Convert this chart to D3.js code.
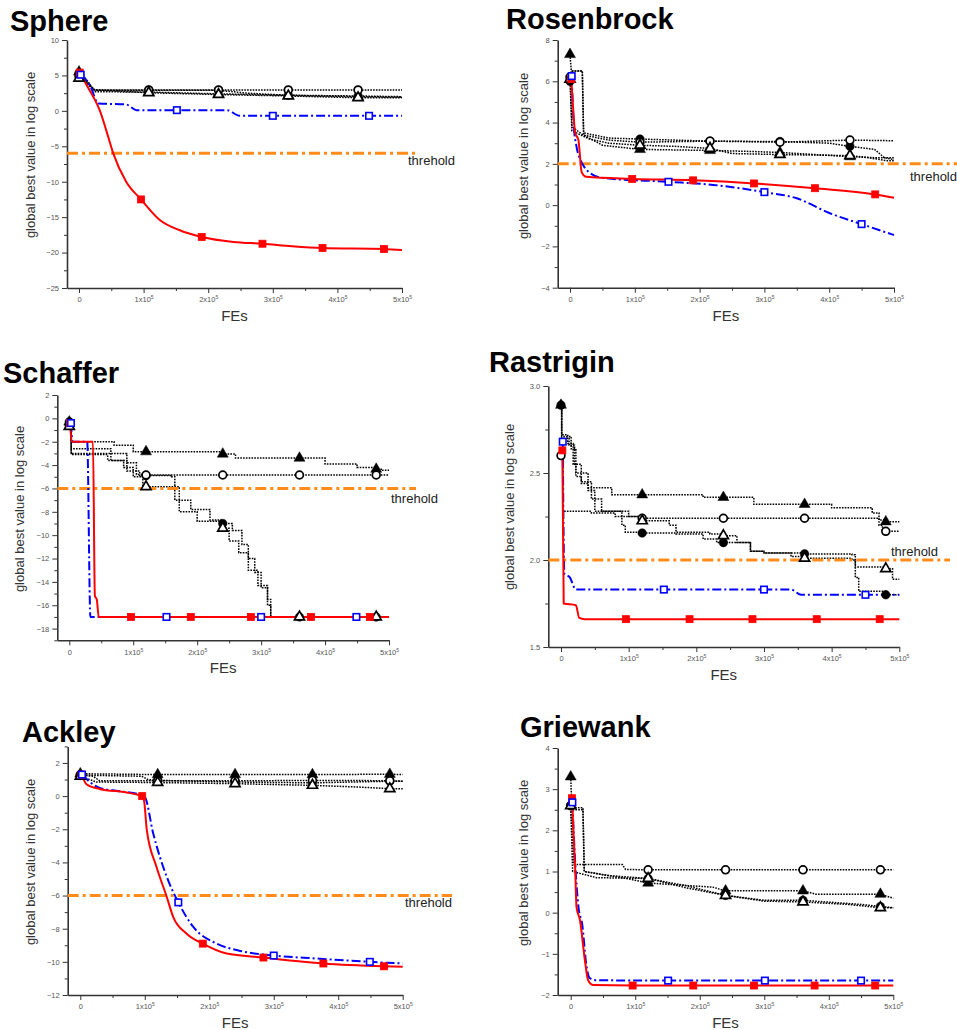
<!DOCTYPE html>
<html>
<head>
<meta charset="utf-8">
<script src="https://cdn.jsdelivr.net/npm/d3@7"></script>
<style>
  body { margin: 0; background: #fff; }
  svg { display: block; font-family: Arial, "Liberation Sans", sans-serif; }
</style>
</head>
<body>
<div id="chart"></div>
<script>
// x values are FEs in units of 1e5, y is log10 of global best value
// a third item of 1 means a marker is drawn on that point

const titles = ["Sphere", "Rosenbrock", "Schaffer", "Rastrigin", "Ackley", "Griewank"];
const xTicks = [0, 1, 2, 3, 4, 5];
const xTickLabels = ["0", "1x10", "2x10", "3x10", "4x10", "5x10"];
const yDomains = [[-25, 10], [-4, 8], [-19, 2], [1.5, 3], [-12, 3], [-2, 4]];
const yTickSets = [
  [-25, -20, -15, -10, -5, 0, 5, 10],
  [-4, -2, 0, 2, 4, 6, 8],
  [-18, -16, -14, -12, -10, -8, -6, -4, -2, 0, 2],
  [1.5, 2.0, 2.5, 3.0],
  [-12, -10, -8, -6, -4, -2, 0, 2],
  [-2, -1, 0, 1, 2, 3, 4]
];
const yMinorSteps = [2.5, 1, 1, 0.25, 1, 0.5];
const thresholds = [-6, 2, -6, 2, -6, null];
const thresholdText = "threhold";

// ---- Sphere
const sphereRed = [[0.01,5.4,1],[0.12,3.6],[0.22,2.0],[0.32,0.1],[0.43,-3],[0.53,-6.0],[0.73,-10],[0.96,-12.5,1],[1.25,-15.4],[1.56,-16.85],[1.9,-17.8,1],[2.39,-18.5],[2.84,-18.75,1],[3.3,-19.1],[3.77,-19.35,1],[4.72,-19.5,1],[5,-19.65]];
const sphereBlue = [[0.026,5.1,1],[0.17,3.6],[0.3,1.05],[0.73,0.9],[0.89,0.1],[1.515,0.1,1],[2.29,0.1],[2.49,-0.7],[3.0,-0.7,1],[4.49,-0.7,1],[5,-0.7]];
const sphereFilledCircle = [[0,5.3,1],[0.1,4.2],[0.25,2.9],[1.08,2.9,1],[2.16,2.9,1],[2.6,2.5],[3.24,2.2,1],[4.32,2.1,1],[5,2.0]];
const sphereOpenCircle = [[0,4.9,1],[0.08,4.5],[0.15,3.6],[0.25,2.95],[1.08,2.95,1],[2.16,2.95,1],[3.24,2.95,1],[4.32,2.95,1],[5,2.95]];
const sphereFilledTriangle = [[0,5.5,1],[0.1,4.6],[0.25,2.7],[1.08,2.65,1],[2.16,2.4,1],[3.24,2.2,1],[4.32,2.0,1],[5,1.95]];
const sphereOpenTriangle = [[0,4.6,1],[0.1,4.4],[0.2,3.0],[1.08,2.55,1],[2.16,2.3,1],[3.24,2.1,1],[4.32,1.85,1],[5,1.85]];

// ---- Rosenbrock
const rosenRed = [[0.02,6.1,1],[0.05,4.6],[0.08,3.5],[0.13,3.15],[0.18,1.6],[0.25,1.37],[0.96,1.27,1],[1.9,1.2,1],[2.84,1.05,1],[3.78,0.82,1],[4.71,0.52,1],[5,0.36]];
const rosenBlue = [[0.026,6.25,1],[0.06,3.8],[0.1,2.85],[0.16,2.2],[0.22,1.85],[0.31,1.55],[0.5,1.32],[1.52,1.13,1],[2.21,0.98],[3.0,0.63,1],[3.5,0.33],[4.0,-0.38],[4.5,-0.92,1],[5,-1.45]];
const rosenFilledCircle = [[0,6.0,1],[0.02,6.5],[0.19,6.5],[0.21,3.5],[0.6,3.25],[1.08,3.2,1],[2.16,3.1,1],[3.24,3.08,1],[4.0,3.0],[4.32,2.85,1],[4.7,2.7],[4.85,2.3],[5,2.2]];
const rosenOpenCircle = [[0,6.2,1],[0.03,3.8],[0.2,3.4],[0.6,3.15],[1.08,3.05,1],[2.16,3.1,1],[3.24,3.05,1],[4.32,3.15,1],[5,3.12]];
const rosenFilledTriangle = [[0,7.3,1],[0.02,6.5],[0.19,6.5],[0.21,3.4],[0.5,2.9],[1.08,2.7,1],[2.16,2.65,1],[2.8,2.6],[3.24,2.55,1],[4.32,2.35,1],[4.7,2.3],[5,2.3]];
const rosenOpenTriangle = [[0,6.1,1],[0.03,3.6],[0.3,3.2],[0.6,3.0],[1.08,2.9,1],[1.6,2.85],[2.16,2.75,1],[2.5,2.5],[3.24,2.45,1],[4.32,2.4,1],[4.6,2.3],[4.9,2.15],[5,2.15]];

// ---- Schaffer
const schafRed = [[0.01,-0.4,1],[0.04,-2.0],[0.37,-2.0],[0.4,-15.2],[0.43,-15.5],[0.46,-17],[0.965,-17,1],[1.9,-17,1],[2.84,-17,1],[3.78,-17,1],[4.7,-17,1],[5,-17]];
const schafBlue = [[0.026,-0.4,1],[0.05,-2.0],[0.28,-2.0],[0.33,-17],[1.52,-17,1],[3.0,-17,1],[4.49,-17,1],[5,-17]];
const schafFilledCircle = [[0,-0.3,1],[0.03,-2.6],[0.5,-2.6],[0.65,-3.6],[0.9,-4.5],[1.1,-4.9],[1.2,-4.9,1],[1.6,-5.0],[1.65,-7.0],[1.9,-7.8],[2.2,-8.7],[2.4,-9.0,1],[2.55,-9.6],[2.7,-10.8],[2.8,-12],[2.9,-13.2],[3.0,-14.5],[3.1,-15.5],[3.15,-17],[3.6,-17,1],[4.8,-17,1],[5,-17]];
const schafOpenCircle = [[0,-0.6,1],[0.03,-3.0],[0.7,-3.0],[0.9,-3.8],[1.05,-4.8],[1.2,-4.85,1],[2.4,-4.85,1],[3.6,-4.85,1],[4.8,-4.85,1],[5,-4.85]];
const schafFilledTriangle = [[0,-0.3,1],[0.03,-2.0],[0.7,-2.3],[1.0,-2.85],[1.2,-2.85,1],[2.4,-3.05,1],[2.6,-3.4],[3.6,-3.4,1],[4.0,-3.9],[4.5,-4.2],[4.8,-4.35,1],[4.9,-4.45],[5,-4.45]];
const schafOpenTriangle = [[0,-0.7,1],[0.03,-3.1],[0.6,-3.6],[0.85,-4.2],[1.0,-5.0],[1.15,-5.85],[1.2,-5.85,1],[1.7,-5.9],[1.72,-8.0],[2.0,-8.8],[2.4,-9.4,1],[2.5,-10.5],[2.65,-11.5],[2.8,-13],[2.95,-14.3],[3.1,-16],[3.15,-17],[3.6,-17,1],[4.8,-17,1],[5,-17]];

// ---- Rastrigin
const rastRed = [[0.02,2.63,1],[0.04,1.75],[0.22,1.74],[0.27,1.667],[0.35,1.66],[0.96,1.66,1],[1.9,1.66,1],[2.83,1.66,1],[3.78,1.66,1],[4.71,1.66,1],[5,1.66]];
const rastBlue = [[0.026,2.68,1],[0.05,1.92],[0.13,1.9],[0.22,1.83],[1.52,1.83,1],[3.0,1.83,1],[3.4,1.83],[3.55,1.8],[4.5,1.8,1],[5,1.8]];
const rastFilledCircle = [[0,2.89,1],[0.01,2.71],[0.15,2.64],[0.22,2.5],[0.4,2.4],[0.5,2.28],[0.9,2.2],[0.95,2.16],[1.2,2.155,1],[1.7,2.15],[2.1,2.12],[2.3,2.1],[2.4,2.1,1],[2.8,2.05],[3.0,2.04],[3.6,2.035,1],[4.3,2.03],[4.35,1.9],[4.4,1.82],[4.8,1.8,1],[5,1.8]];
const rastOpenCircle = [[0,2.6,1],[0.03,2.28],[0.45,2.27],[0.8,2.25],[1.2,2.24,1],[2.4,2.24,1],[3.6,2.24,1],[4.6,2.24],[4.7,2.2],[4.75,2.17],[4.8,2.165,1],[5,2.165]];
const rastFilledTriangle = [[0,2.89,1],[0.01,2.72],[0.1,2.67],[0.18,2.55],[0.22,2.48],[0.3,2.44],[0.4,2.415],[0.75,2.375],[1.2,2.375,1],[2.1,2.36],[2.4,2.36,1],[2.85,2.32],[3.6,2.32,1],[4.0,2.3],[4.6,2.27],[4.7,2.23],[4.8,2.22,1],[5,2.22]];
const rastOpenTriangle = [[0,2.88],[0.01,2.7],[0.12,2.66],[0.2,2.55],[0.3,2.45],[0.45,2.35],[0.6,2.28],[1.0,2.25],[1.2,2.225,1],[1.6,2.2],[1.7,2.16],[2.2,2.15],[2.4,2.14,1],[2.6,2.1],[2.8,2.05],[3.0,2.04],[3.4,2.02],[3.6,2.01,1],[4.3,2.0],[4.35,1.96],[4.8,1.95,1],[4.9,1.89],[5,1.89]];

// ---- Ackley
const ackRed = [[0.02,1.3,1],[0.1,0.7],[0.3,0.43],[0.72,0.22],[0.92,0.05],[0.96,0.0,1],[0.99,-0.3],[1.03,-2.0],[1.18,-4.25],[1.34,-6.07],[1.44,-7.28],[1.65,-8.3],[1.9,-8.9,1],[2.27,-9.5],[2.84,-9.74,1],[3.3,-9.94],[3.77,-10.1,1],[4.71,-10.27,1],[5,-10.3]];
const ackBlue = [[0.026,1.3,1],[0.15,0.85],[0.3,0.5],[0.6,0.3],[0.93,0.08],[1.0,-0.05],[1.13,-2.24],[1.34,-4.86],[1.52,-6.41,1],[1.75,-7.88],[2.11,-8.89],[2.48,-9.34],[3.0,-9.62,1],[3.67,-9.8],[4.49,-10.0,1],[5,-10.1]];
const ackFilledCircle = [[0,1.3,1],[0.2,1.25],[0.95,1.2],[1.05,1.0],[1.2,0.95,1],[2.4,0.85,1],[3.6,0.8,1],[4.8,0.9,1],[5,0.9]];
const ackOpenCircle = [[0,1.25,1],[0.2,1.2],[0.3,0.92],[1.2,0.92,1],[2.4,0.92,1],[3.6,0.95,1],[4.8,0.93,1],[5,0.9]];
const ackFilledTriangle = [[0,1.35,1],[1.2,1.3,1],[2.4,1.3,1],[3.6,1.3,1],[4.8,1.32,1],[5,1.3]];
const ackOpenTriangle = [[0,1.2,1],[0.25,0.85],[1.2,0.82,1],[2.4,0.75,1],[3.6,0.65,1],[4.3,0.55],[4.8,0.45,1],[5,0.45]];

// ---- Griewank
const griRed = [[0.02,2.78,1],[0.07,1.03],[0.09,0.14],[0.145,-0.19],[0.22,-1.16],[0.27,-1.64],[0.35,-1.76],[0.96,-1.77,1],[1.9,-1.77,1],[2.84,-1.77,1],[3.78,-1.77,1],[4.72,-1.77,1],[5,-1.77]];
const griBlue = [[0.026,2.68,1],[0.07,1.2],[0.12,0.14],[0.18,-0.3],[0.24,-1.24],[0.29,-1.58],[0.38,-1.64],[1.51,-1.65,1],[3.01,-1.65,1],[4.5,-1.65,1],[5,-1.65]];
const griFilledCircle = [[0,2.6,1],[0.02,2.55],[0.19,2.55],[0.21,1.0],[0.6,0.9],[1.2,0.83,1],[1.8,0.65],[2.4,0.42,1],[3.0,0.3],[3.6,0.3,1],[4.5,0.2],[4.8,0.15,1],[5,0.12]];
const griOpenCircle = [[0,2.6,1],[0.05,1.17],[0.8,1.17],[0.85,1.05],[1.2,1.04,1],[2.4,1.04,1],[3.6,1.04,1],[4.8,1.04,1],[5,1.04]];
const griFilledTriangle = [[0,3.3,1],[0.02,2.5],[0.19,2.5],[0.21,1.0],[0.5,0.92],[0.9,0.82],[1.2,0.72,1],[1.6,0.68],[2.2,0.62],[2.4,0.53,1],[3.6,0.53,1],[3.8,0.45],[4.8,0.45,1],[5,0.35]];
const griOpenTriangle = [[0,2.6,1],[0.03,1.0],[0.4,0.85],[1.2,0.83,1],[1.8,0.6],[2.4,0.42,1],[3.0,0.28],[3.6,0.26,1],[4.3,0.2],[4.8,0.12,1],[5,0.12]];

// ---- layout (pixels): l = y axis, x0/x5 = FEs 0 and 5e5, t/b = y domain top/bottom
const layout = [
  {l:67,    x0:79,    x5:402,   t:40,    b:288,   title:[10,31],   ylab:[30,155],  thrEnd:416, thrText:[408,165], step:false},
  {l:557.7, x0:570,   x5:894,   t:40,    b:287.7, title:[506,29],  ylab:[523,156], thrEnd:957, thrText:[910,181], step:false},
  {l:57.3,  x0:69.3,  x5:389,   t:395,   b:640.3, title:[3,383],   ylab:[19,509],  thrEnd:416, thrText:[391,503], step:true},
  {l:548.3, x0:561,   x5:899.3, t:386,   b:647,   title:[489,372], ylab:[509,507], thrEnd:950, thrText:[891,556], step:true},
  {l:67.7,  x0:80.3,  x5:402.7, t:746.4, b:995,   title:[22,742],  ylab:[30,862],  thrEnd:452, thrText:[405,907], step:false},
  {l:557.7, x0:570.7, x5:893.3, t:748,   b:995,   title:[520,737], ylab:[523,863], thrEnd:null, thrText:null, step:false}
];

const panelSeries = [
  [sphereRed, sphereBlue, sphereFilledCircle, sphereOpenCircle, sphereFilledTriangle, sphereOpenTriangle],
  [rosenRed, rosenBlue, rosenFilledCircle, rosenOpenCircle, rosenFilledTriangle, rosenOpenTriangle],
  [schafRed, schafBlue, schafFilledCircle, schafOpenCircle, schafFilledTriangle, schafOpenTriangle],
  [rastRed, rastBlue, rastFilledCircle, rastOpenCircle, rastFilledTriangle, rastOpenTriangle],
  [ackRed, ackBlue, ackFilledCircle, ackOpenCircle, ackFilledTriangle, ackOpenTriangle],
  [griRed, griBlue, griFilledCircle, griOpenCircle, griFilledTriangle, griOpenTriangle]
];

// styles, in the same order as the series above
const styles = [
  {color:"#ff0000", width:2,   dash:null,        marker:"square",   filled:true},
  {color:"#0000ff", width:2,   dash:"9,3,2,3",   marker:"square",   filled:false},
  {color:"#000",    width:1.5, dash:"1.6,1.2",   marker:"circle",   filled:true},
  {color:"#000",    width:1.5, dash:"1.6,1.2",   marker:"circle",   filled:false},
  {color:"#000",    width:1.5, dash:"1.6,1.2",   marker:"triangle", filled:true},
  {color:"#000",    width:1.5, dash:"1.6,1.2",   marker:"triangle", filled:false}
];

const svg = d3.select("#chart").append("svg")
  .attr("width", 957)
  .attr("height", 1030);

svg.append("rect").attr("width", 957).attr("height", 1030).attr("fill", "#fff");

function drawMarkers(g, pts, st, x, y) {
  const m = pts.filter(d => d[2]);
  const fill = st.filled ? st.color : "#fff";
  if (st.marker === "square") {
    const s = st.filled ? 7 : 6.5;
    g.selectAll(null).data(m).join("rect")
      .attr("x", d => x(d[0]) - s / 2)
      .attr("y", d => y(d[1]) - s / 2)
      .attr("width", s).attr("height", s)
      .attr("fill", fill)
      .attr("stroke", st.color)
      .attr("stroke-width", st.filled ? 0.8 : 1.6);
  } else if (st.marker === "circle") {
    g.selectAll(null).data(m).join("circle")
      .attr("cx", d => x(d[0]))
      .attr("cy", d => y(d[1]))
      .attr("r", st.filled ? 4.3 : 3.9)
      .attr("fill", fill)
      .attr("stroke", st.color)
      .attr("stroke-width", st.filled ? 0.5 : 1.7);
  } else {
    const tri = d3.symbol().type(d3.symbolTriangle).size(st.filled ? 52 : 44);
    g.selectAll(null).data(m).join("path")
      .attr("d", tri)
      .attr("transform", d => `translate(${x(d[0])},${y(d[1])})`)
      .attr("fill", fill)
      .attr("stroke", st.color)
      .attr("stroke-width", st.filled ? 0.5 : 1.7);
  }
}

titles.forEach((title, i) => {
  const L = layout[i];
  const g = svg.append("g");
  const xLeft = -(L.x0 - L.l) / (L.x5 - L.x0) * 5;
  const x = d3.scaleLinear().domain([xLeft, 5]).range([L.l, L.x5]);
  const y = d3.scaleLinear().domain(yDomains[i]).range([L.b, L.t]);
  const yFmt = i === 3 ? d3.format(".1f") : d3.format("d");

  // minor ticks
  const xMinor = d3.range(0.5, 5, 1);
  const yMinor = d3.range(yDomains[i][0], yDomains[i][1] + 1e-9, yMinorSteps[i])
    .filter(v => !yTickSets[i].some(t => Math.abs(t - v) < 1e-9));

  g.append("g")
    .attr("transform", `translate(0,${L.b})`)
    .call(d3.axisBottom(x).tickValues(xMinor).tickSize(3).tickFormat(""))
    .call(a => a.select(".domain").remove())
    .call(a => a.selectAll("line").attr("stroke", "#333"));
  g.append("g")
    .attr("transform", `translate(${L.l},0)`)
    .call(d3.axisLeft(y).tickValues(yMinor).tickSize(3).tickFormat(""))
    .call(a => a.select(".domain").remove())
    .call(a => a.selectAll("line").attr("stroke", "#333"));

  const xAxis = g.append("g")
    .attr("transform", `translate(0,${L.b})`)
    .call(d3.axisBottom(x).tickValues(xTicks).tickSize(5).tickSizeOuter(0).tickPadding(4)
      .tickFormat((d, k) => xTickLabels[k]));
  xAxis.selectAll("text")
    .attr("font-size", 7.5).attr("fill", "#555").attr("font-family", "Arial, 'Liberation Sans', sans-serif")
    .each(function(d) {
      if (d > 0) d3.select(this).append("tspan").attr("dy", -3).attr("font-size", 5).text("5");
    });

  const yAxis = g.append("g")
    .attr("transform", `translate(${L.l},0)`)
    .call(d3.axisLeft(y).tickValues(yTickSets[i]).tickSize(5).tickSizeOuter(0).tickPadding(3).tickFormat(yFmt));
  yAxis.selectAll("text")
    .attr("font-size", 7.5).attr("fill", "#555").attr("font-family", "Arial, 'Liberation Sans', sans-serif");

  [xAxis, yAxis].forEach(a => {
    a.select(".domain").attr("stroke", "#333").attr("stroke-width", 1.6);
    a.selectAll(".tick line").attr("stroke", "#333").attr("stroke-width", 1);
  });

  // titles and labels
  g.append("text")
    .attr("x", L.title[0]).attr("y", L.title[1])
    .attr("font-size", 29).attr("font-weight", "bold").attr("fill", "#000")
    .text(title);
  g.append("text")
    .attr("transform", `translate(${L.ylab[0]},${L.ylab[1]}) rotate(-90)`)
    .attr("text-anchor", "middle").attr("dominant-baseline", "central")
    .attr("font-size", 13).attr("fill", "#333")
    .text("global best value in log scale");
  g.append("text")
    .attr("x", (L.l + L.x5) / 2).attr("y", L.b + 33)
    .attr("text-anchor", "middle")
    .attr("font-size", 15).attr("fill", "#333")
    .text("FEs");

  const series = panelSeries[i];
  const colorLine = d3.line().x(d => x(d[0])).y(d => y(d[1])).curve(d3.curveMonotoneX);
  const blackLine = d3.line().x(d => x(d[0])).y(d => y(d[1]))
    .curve(L.step ? d3.curveStepAfter : d3.curveLinear);

  // black dotted lines first
  [2, 3, 4, 5].forEach(k => {
    g.append("path").datum(series[k])
      .attr("d", blackLine)
      .attr("fill", "none")
      .attr("stroke", styles[k].color)
      .attr("stroke-width", styles[k].width)
      .attr("stroke-dasharray", styles[k].dash);
  });

  // threshold
  if (thresholds[i] !== null) {
    g.append("line")
      .attr("x1", L.l).attr("x2", L.thrEnd)
      .attr("y1", y(thresholds[i])).attr("y2", y(thresholds[i]))
      .attr("stroke", "#ff8c1a").attr("stroke-width", 3)
      .attr("stroke-dasharray", "11,4,3,4");
    g.append("text")
      .attr("x", L.thrText[0]).attr("y", L.thrText[1])
      .attr("font-size", 13).attr("fill", "#222")
      .text(thresholdText);
  }

  // blue then red
  [1, 0].forEach(k => {
    g.append("path").datum(series[k])
      .attr("d", colorLine)
      .attr("fill", "none")
      .attr("stroke", styles[k].color)
      .attr("stroke-width", styles[k].width)
      .attr("stroke-dasharray", styles[k].dash);
  });

  [2, 4, 3, 5, 0, 1].forEach(k => drawMarkers(g, series[k], styles[k], x, y));
});
</script>
</body>
</html>
